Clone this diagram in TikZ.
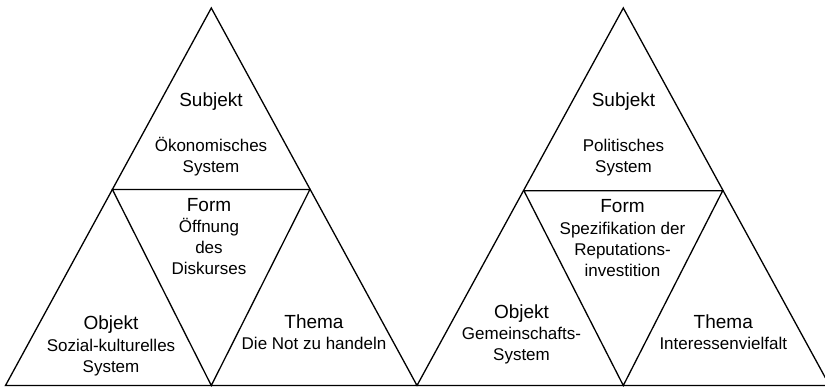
\documentclass[tikz,border=0pt]{standalone}
\usepackage{fontspec}
\setmainfont{Liberation Sans}
\begin{document}
\begin{tikzpicture}[x=1pt,y=-1pt,
  edge/.style={line width=1.3pt,line join=miter},
  head/.style={anchor=base,inner sep=0pt,font=\fontsize{19}{21}\selectfont},
  sub/.style={anchor=base,inner sep=0pt,font=\fontsize{17}{21}\selectfont}]
\useasboundingbox (0,0) rectangle (825,387);

% left triangle: corners, edge points of the inner triangle
\coordinate (LA) at (5.5,385.5);
\coordinate (LC) at (211.3,8);
\coordinate (LB) at (417,385.5);
\coordinate (LM1) at (112.4,189.5);
\coordinate (LM2) at (309.9,189.5);
\coordinate (LM3) at (211.3,385.5);

% right triangle
\coordinate (RA) at (417,385.5);
\coordinate (RC) at (623.3,8);
\coordinate (RB) at (829.6,385.5);
\coordinate (RM1) at (523.9,190.7);
\coordinate (RM2) at (722.7,190.7);
\coordinate (RM3) at (623.3,385.5);

\draw[edge] (LA) -- (LC) -- (LB) -- cycle;
\draw[edge] (LM1) -- (LM2) -- (LM3) -- cycle;
\draw[edge] (RA) -- (RC) -- (RB) -- cycle;
\draw[edge] (RM1) -- (RM2) -- (RM3) -- cycle;

% labels, left
\node[head] (ls) at (211,107) {Subjekt};
\node[sub]  (ls1) at (211,152) {Ökonomisches};
\node[sub]  (ls2) at (211,173) {System};
\node[head] (lf) at (209,212) {Form};
\node[sub]  (lf1) at (209,233) {Öffnung};
\node[sub]  (lf2) at (209,254) {des};
\node[sub]  (lf3) at (209,275) {Diskurses};
\node[head] (lo) at (111,329.5) {Objekt};
\node[sub]  (lo1) at (111,351.5) {Sozial-kulturelles};
\node[sub]  (lo2) at (111,372.5) {System};
\node[head] (lt) at (314,329) {Thema};
\node[sub]  (lt1) at (314,349.5) {Die Not zu handeln};

% labels, right
\node[head] (rs) at (623.5,107) {Subjekt};
\node[sub]  (rs1) at (623.5,152) {Politisches};
\node[sub]  (rs2) at (623.5,173) {System};
\node[head] (rf) at (622.5,213) {Form};
\node[sub]  (rf1) at (622.5,234.5) {Spezifikation der};
\node[sub]  (rf2) at (622.5,255.5) {Reputations-};
\node[sub]  (rf3) at (622.5,276.5) {investition};
\node[head] (ro) at (521.5,319) {Objekt};
\node[sub]  (ro1) at (521.5,339.5) {Gemeinschafts-};
\node[sub]  (ro2) at (521.5,360.5) {System};
\node[head] (rt) at (723.3,329) {Thema};
\node[sub]  (rt1) at (723.3,349.5) {Interessenvielfalt};
\end{tikzpicture}
\end{document}
